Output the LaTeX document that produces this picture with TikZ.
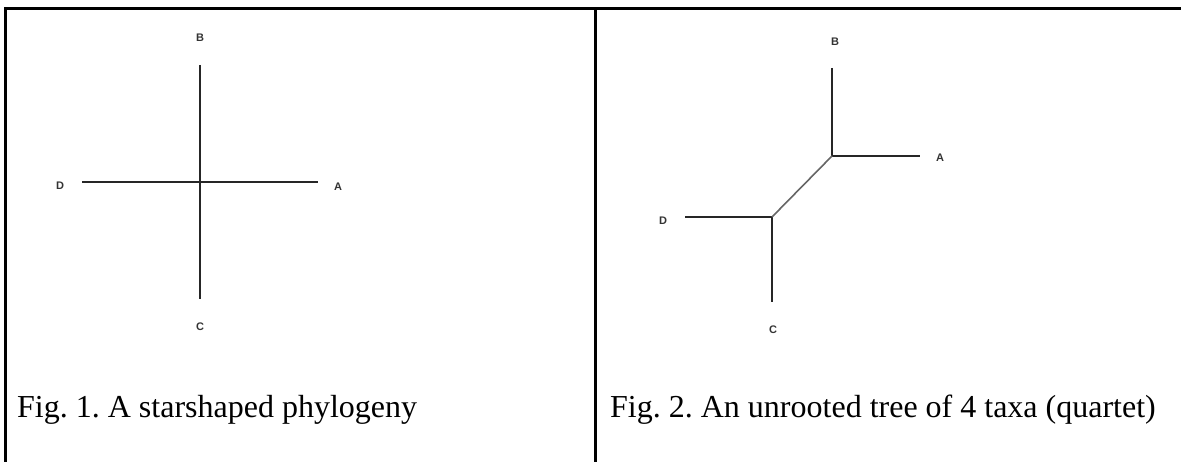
\documentclass[tikz,border=0pt]{standalone}
\usepackage{fontspec}
\setmainfont{Liberation Serif}
\newfontfamily\labfont{Liberation Sans}
\frenchspacing
\begin{document}
\begin{tikzpicture}[x=1pt,y=-1pt,
  frame/.style={line width=3pt,black},
  branch/.style={line width=2pt,black!85},
  inner/.style={line width=1.6pt,black!60},
  taxon/.style={font=\labfont\bfseries\fontsize{11}{12}\selectfont,inner sep=0pt,text=black!80},
  caption/.style={font=\fontsize{32}{36}\selectfont,anchor=base west,inner sep=0pt}]
\useasboundingbox (0,0) rectangle (1181,462);
% frame
\coordinate (tl) at (5,9);
\coordinate (tr) at (1181,9);
\coordinate (bl) at (5,462);
\coordinate (tm) at (595,9);
\coordinate (bm) at (595,462);
\draw[frame] (tr) -- (tl) -- (bl);
\draw[frame] (tm) -- (bm);
% Fig 1: star
\node[taxon] (B1) at (200,38) {B};
\node[taxon] (A1) at (338,187) {A};
\node[taxon] (C1) at (200,327) {C};
\node[taxon] (D1) at (60,186) {D};
\coordinate (b1) at (200,65);
\coordinate (c1) at (200,299);
\coordinate (d1) at (82,182);
\coordinate (a1) at (318,182);
\draw[branch] (b1) -- (c1);
\draw[branch] (d1) -- (a1);
\node[caption] (cap1) at (17,417) {Fig. 1. A starshaped phylogeny};
% Fig 2: quartet
\node[taxon] (B2) at (835,42) {B};
\node[taxon] (A2) at (940,158) {A};
\node[taxon] (C2) at (773,330) {C};
\node[taxon] (D2) at (663,221) {D};
\coordinate (u) at (832,156);
\coordinate (l) at (772,217);
\coordinate (b2) at (832,68);
\coordinate (a2) at (920,156);
\coordinate (d2) at (685,217);
\coordinate (c2) at (772,302);
\draw[branch] (b2) -- (u) -- (a2);
\draw[branch] (d2) -- (l) -- (c2);
\draw[inner] (u) -- (l);
\node[caption] (cap2) at (610,417) {Fig. 2. An unrooted tree of 4 taxa (quartet)};
\end{tikzpicture}
\end{document}
